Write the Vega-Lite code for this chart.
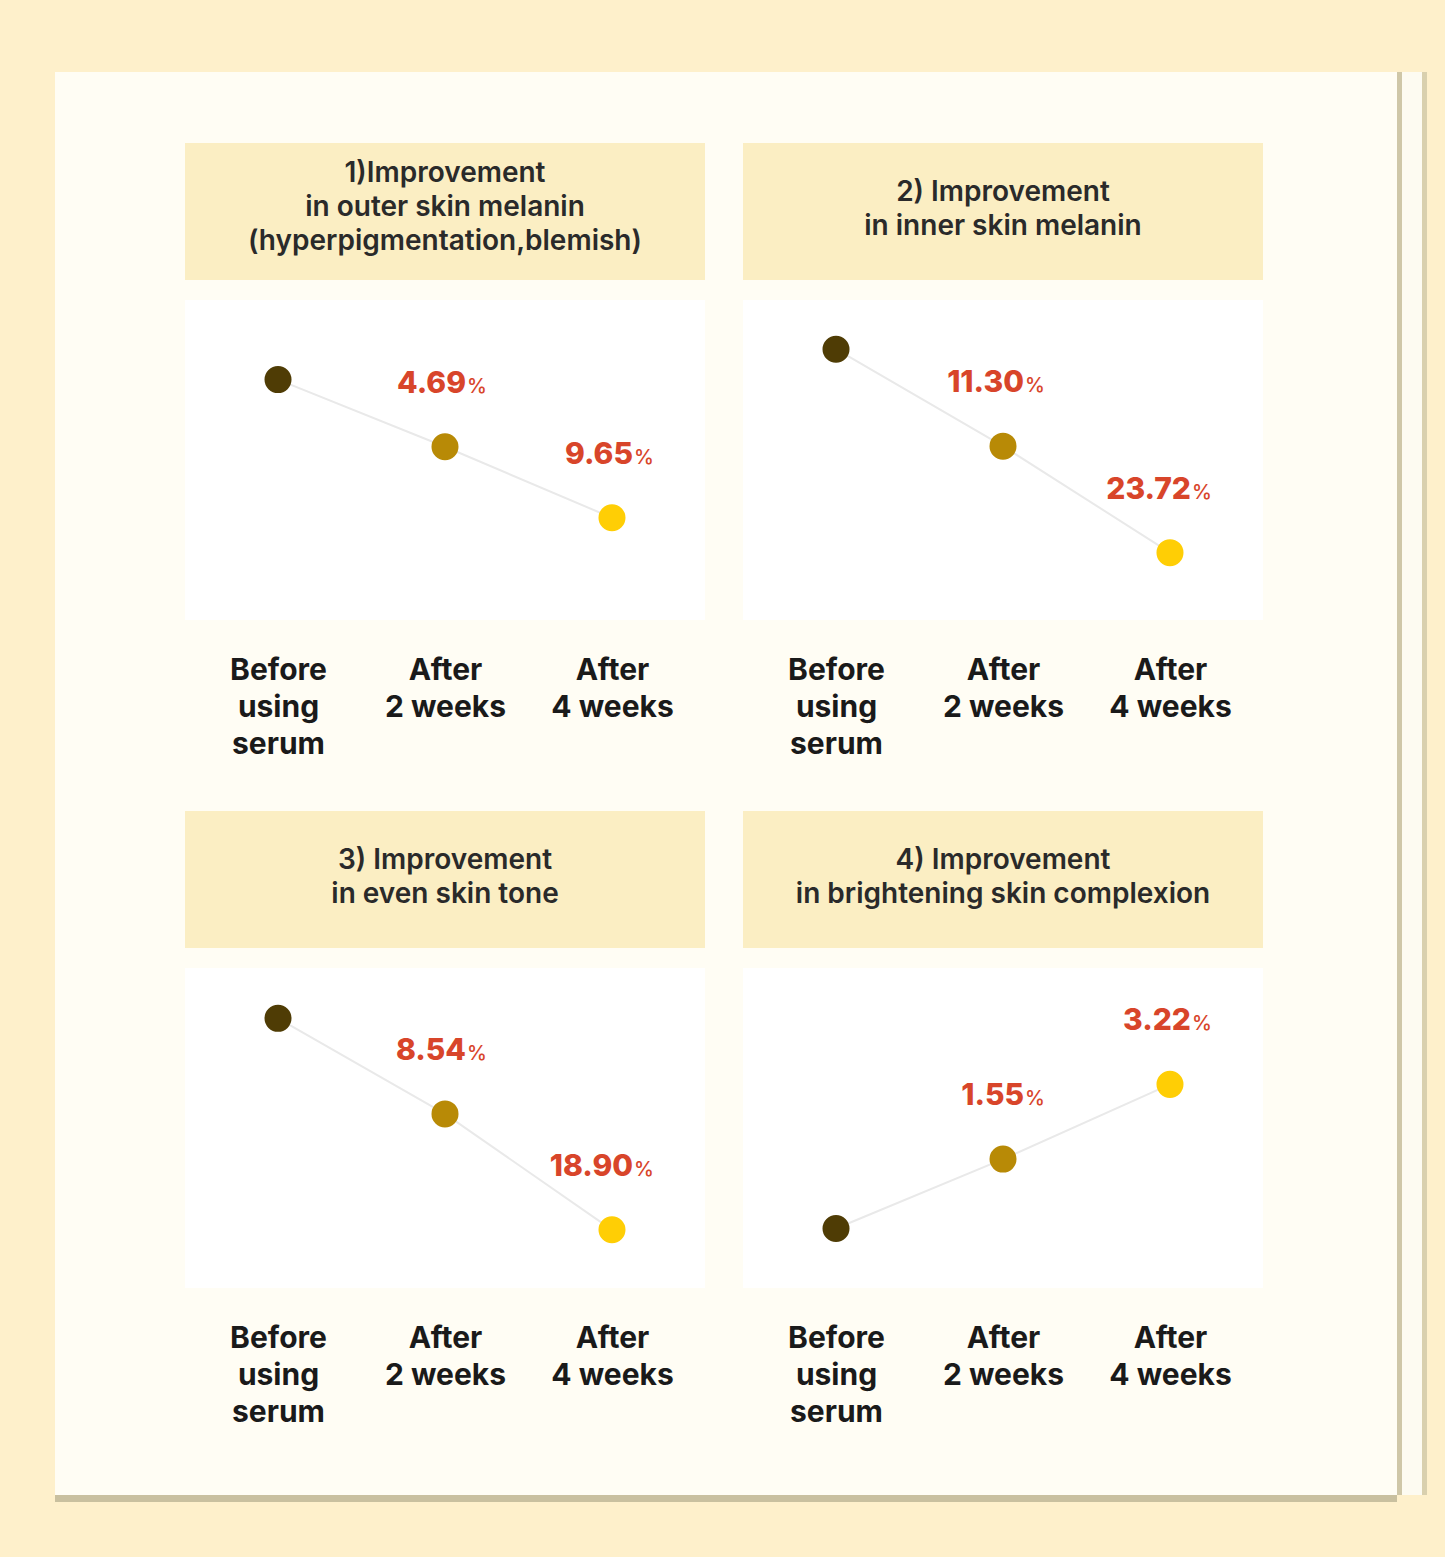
{
  "$schema": "https://vega.github.io/schema/vega-lite/v6.json",
  "background": "#FFFDF4",
  "padding": 0,
  "spacing": 0,
  "datasets": {
    "pts": [
      {"panel": 1, "stage": "Before using serum", "improvement": 0},
      {"panel": 1, "stage": "After 2 weeks", "improvement": 4.69},
      {"panel": 1, "stage": "After 4 weeks", "improvement": 9.65},
      {"panel": 2, "stage": "Before using serum", "improvement": 0},
      {"panel": 2, "stage": "After 2 weeks", "improvement": 11.30},
      {"panel": 2, "stage": "After 4 weeks", "improvement": 23.72},
      {"panel": 3, "stage": "Before using serum", "improvement": 0},
      {"panel": 3, "stage": "After 2 weeks", "improvement": 8.54},
      {"panel": 3, "stage": "After 4 weeks", "improvement": 18.90},
      {"panel": 4, "stage": "Before using serum", "improvement": 0},
      {"panel": 4, "stage": "After 2 weeks", "improvement": 1.55},
      {"panel": 4, "stage": "After 4 weeks", "improvement": 3.22}
    ],
    "titles": [
      {"panel": 1, "title": "1)Improvement\nin outer skin melanin\n(hyperpigmentation,blemish)"},
      {"panel": 2, "title": "2) Improvement\nin inner skin melanin"},
      {"panel": 3, "title": "3) Improvement\nin even skin tone"},
      {"panel": 4, "title": "4) Improvement\nin brightening skin complexion"}
    ]
  },
  "vconcat": [
    {"width": 1445, "height": 72, "data": {"values": []}, "mark": {"type": "text", "text": ""}, "view": {"fill": "#FEF0CB", "stroke": null}},
    {
      "spacing": 0,
      "hconcat": [
        {"width": 55, "height": 1423, "data": {"values": []}, "mark": {"type": "text", "text": ""}, "view": {"fill": "#FEF0CB", "stroke": null}},
        {
          "spacing": 0,
          "vconcat": [
            {"width": 1342, "height": 71, "data": {"values": []}, "mark": {"type": "text", "text": ""}, "view": {"stroke": null}},
            {
              "spacing": 0,
              "hconcat": [
                {"width": 130, "height": 10, "data": {"values": []}, "mark": {"type": "text", "text": ""}, "view": {"stroke": null}},
                {
                  "spacing": 52,
                  "vconcat": [
                    {
                      "spacing": 38,
                      "hconcat": [
                        {
                          "spacing": 20,
                          "vconcat": [
                            {"width": 520, "height": 137, "view": {"fill": "#FBEEC3", "stroke": null}, "data": {"name": "titles"}, "transform": [{"filter": "datum.panel == 1"}], "mark": {"type": "text", "lineBreak": "\n", "fontSize": 28, "font": "Inter", "fontWeight": 600, "color": "#2A2A2A", "lineHeight": 34, "align": "center", "baseline": "middle", "dy": -38}, "encoding": {"text": {"field": "title"}}},
                            {
                              "width": 520, "height": 320, "view": {"fill": "#FFFFFF", "stroke": null},
                              "data": {"name": "pts"}, "transform": [{"filter": "datum.panel == 1"}],
                              "encoding": {
                                "x": {"field": "stage", "type": "nominal", "sort": ["Before using serum", "After 2 weeks", "After 4 weeks"], "scale": {"type": "point", "padding": 0.557}, "title": null, "axis": {"labelExpr": "indexof(datum.value, 'Before') == 0 ? ['Before', 'using', 'serum'] : ['After', substring(datum.value, 6)]"}},
                                "y": {"field": "improvement", "type": "quantitative", "scale": {"domain": [-5.56, 16.79], "reverse": true, "nice": false, "zero": false}, "axis": null},
                                "order": {"value": null}
                              },
                              "layer": [
                                {"mark": {"type": "line", "color": "#E9E9E9", "strokeWidth": 2}},
                                {"mark": {"type": "circle", "size": 730, "opacity": 1}, "encoding": {"color": {"field": "stage", "type": "nominal", "scale": {"domain": ["Before using serum", "After 2 weeks", "After 4 weeks"], "range": ["#4F3C05", "#B88A06", "#FFCE05"]}, "legend": null}}},
                                {"transform": [{"filter": "datum.improvement > 0"}], "mark": {"type": "text", "align": "right", "baseline": "alphabetic", "dx": 21, "dy": -54, "font": "Inter", "fontWeight": 800, "fontSize": 30, "color": "#D8452A"}, "encoding": {"text": {"field": "improvement", "type": "quantitative", "format": ".2f"}}},
                                {"transform": [{"filter": "datum.improvement > 0"}], "mark": {"type": "text", "text": "%", "align": "left", "baseline": "alphabetic", "dx": 22, "dy": -54, "font": "Inter", "fontWeight": 500, "fontSize": 20, "color": "#D8452A"}}
                              ]
                            }
                          ]
                        },
                        {
                          "spacing": 20,
                          "vconcat": [
                            {"width": 520, "height": 137, "view": {"fill": "#FBEEC3", "stroke": null}, "data": {"name": "titles"}, "transform": [{"filter": "datum.panel == 2"}], "mark": {"type": "text", "lineBreak": "\n", "fontSize": 28, "font": "Inter", "fontWeight": 600, "color": "#2A2A2A", "lineHeight": 34, "align": "center", "baseline": "middle", "dy": -19}, "encoding": {"text": {"field": "title"}}},
                            {
                              "width": 520, "height": 320, "view": {"fill": "#FFFFFF", "stroke": null},
                              "data": {"name": "pts"}, "transform": [{"filter": "datum.panel == 2"}],
                              "encoding": {
                                "x": {"field": "stage", "type": "nominal", "sort": ["Before using serum", "After 2 weeks", "After 4 weeks"], "scale": {"type": "point", "padding": 0.557}, "title": null, "axis": {"labelExpr": "indexof(datum.value, 'Before') == 0 ? ['Before', 'using', 'serum'] : ['After', substring(datum.value, 6)]"}},
                                "y": {"field": "improvement", "type": "quantitative", "scale": {"domain": [-5.74, 31.57], "reverse": true, "nice": false, "zero": false}, "axis": null},
                                "order": {"value": null}
                              },
                              "layer": [
                                {"mark": {"type": "line", "color": "#E9E9E9", "strokeWidth": 2}},
                                {"mark": {"type": "circle", "size": 730, "opacity": 1}, "encoding": {"color": {"field": "stage", "type": "nominal", "scale": {"domain": ["Before using serum", "After 2 weeks", "After 4 weeks"], "range": ["#4F3C05", "#B88A06", "#FFCE05"]}, "legend": null}}},
                                {"transform": [{"filter": "datum.improvement > 0"}], "mark": {"type": "text", "align": "right", "baseline": "alphabetic", "dx": 21, "dy": -54, "font": "Inter", "fontWeight": 800, "fontSize": 30, "color": "#D8452A"}, "encoding": {"text": {"field": "improvement", "type": "quantitative", "format": ".2f"}}},
                                {"transform": [{"filter": "datum.improvement > 0"}], "mark": {"type": "text", "text": "%", "align": "left", "baseline": "alphabetic", "dx": 22, "dy": -54, "font": "Inter", "fontWeight": 500, "fontSize": 20, "color": "#D8452A"}}
                              ]
                            }
                          ]
                        }
                      ]
                    },
                    {
                      "spacing": 38,
                      "hconcat": [
                        {
                          "spacing": 20,
                          "vconcat": [
                            {"width": 520, "height": 137, "view": {"fill": "#FBEEC3", "stroke": null}, "data": {"name": "titles"}, "transform": [{"filter": "datum.panel == 3"}], "mark": {"type": "text", "lineBreak": "\n", "fontSize": 28, "font": "Inter", "fontWeight": 600, "color": "#2A2A2A", "lineHeight": 34, "align": "center", "baseline": "middle", "dy": -19}, "encoding": {"text": {"field": "title"}}},
                            {
                              "width": 520, "height": 320, "view": {"fill": "#FFFFFF", "stroke": null},
                              "data": {"name": "pts"}, "transform": [{"filter": "datum.panel == 3"}],
                              "encoding": {
                                "x": {"field": "stage", "type": "nominal", "sort": ["Before using serum", "After 2 weeks", "After 4 weeks"], "scale": {"type": "point", "padding": 0.557}, "title": null, "axis": {"labelExpr": "indexof(datum.value, 'Before') == 0 ? ['Before', 'using', 'serum'] : ['After', substring(datum.value, 6)]"}},
                                "y": {"field": "improvement", "type": "quantitative", "scale": {"domain": [-4.50, 24.10], "reverse": true, "nice": false, "zero": false}, "axis": null},
                                "order": {"value": null}
                              },
                              "layer": [
                                {"mark": {"type": "line", "color": "#E9E9E9", "strokeWidth": 2}},
                                {"mark": {"type": "circle", "size": 730, "opacity": 1}, "encoding": {"color": {"field": "stage", "type": "nominal", "scale": {"domain": ["Before using serum", "After 2 weeks", "After 4 weeks"], "range": ["#4F3C05", "#B88A06", "#FFCE05"]}, "legend": null}}},
                                {"transform": [{"filter": "datum.improvement > 0"}], "mark": {"type": "text", "align": "right", "baseline": "alphabetic", "dx": 21, "dy": -54, "font": "Inter", "fontWeight": 800, "fontSize": 30, "color": "#D8452A"}, "encoding": {"text": {"field": "improvement", "type": "quantitative", "format": ".2f"}}},
                                {"transform": [{"filter": "datum.improvement > 0"}], "mark": {"type": "text", "text": "%", "align": "left", "baseline": "alphabetic", "dx": 22, "dy": -54, "font": "Inter", "fontWeight": 500, "fontSize": 20, "color": "#D8452A"}}
                              ]
                            }
                          ]
                        },
                        {
                          "spacing": 20,
                          "vconcat": [
                            {"width": 520, "height": 137, "view": {"fill": "#FBEEC3", "stroke": null}, "data": {"name": "titles"}, "transform": [{"filter": "datum.panel == 4"}], "mark": {"type": "text", "lineBreak": "\n", "fontSize": 28, "font": "Inter", "fontWeight": 600, "color": "#2A2A2A", "lineHeight": 34, "align": "center", "baseline": "middle", "dy": -19}, "encoding": {"text": {"field": "title"}}},
                            {
                              "width": 520, "height": 320, "view": {"fill": "#FFFFFF", "stroke": null},
                              "data": {"name": "pts"}, "transform": [{"filter": "datum.panel == 4"}],
                              "encoding": {
                                "x": {"field": "stage", "type": "nominal", "sort": ["Before using serum", "After 2 weeks", "After 4 weeks"], "scale": {"type": "point", "padding": 0.557}, "title": null, "axis": {"labelExpr": "indexof(datum.value, 'Before') == 0 ? ['Before', 'using', 'serum'] : ['After', substring(datum.value, 6)]"}},
                                "y": {"field": "improvement", "type": "quantitative", "scale": {"domain": [-1.33, 5.82], "nice": false, "zero": false}, "axis": null},
                                "order": {"value": null}
                              },
                              "layer": [
                                {"mark": {"type": "line", "color": "#E9E9E9", "strokeWidth": 2}},
                                {"mark": {"type": "circle", "size": 730, "opacity": 1}, "encoding": {"color": {"field": "stage", "type": "nominal", "scale": {"domain": ["Before using serum", "After 2 weeks", "After 4 weeks"], "range": ["#4F3C05", "#B88A06", "#FFCE05"]}, "legend": null}}},
                                {"transform": [{"filter": "datum.improvement > 0"}], "mark": {"type": "text", "align": "right", "baseline": "alphabetic", "dx": 21, "dy": -54, "font": "Inter", "fontWeight": 800, "fontSize": 30, "color": "#D8452A"}, "encoding": {"text": {"field": "improvement", "type": "quantitative", "format": ".2f"}}},
                                {"transform": [{"filter": "datum.improvement > 0"}], "mark": {"type": "text", "text": "%", "align": "left", "baseline": "alphabetic", "dx": 22, "dy": -54, "font": "Inter", "fontWeight": 500, "fontSize": 20, "color": "#D8452A"}}
                              ]
                            }
                          ]
                        }
                      ]
                    }
                  ]
                }
              ]
            }
          ]
        },
        {
          "spacing": 0,
          "hconcat": [
            {"width": 5, "height": 1423, "data": {"values": []}, "mark": {"type": "text", "text": ""}, "view": {"fill": "#CFC7A8", "stroke": null}},
            {"width": 20, "height": 1423, "data": {"values": []}, "mark": {"type": "text", "text": ""}, "view": {"fill": "#FDFBF1", "stroke": null}},
            {"width": 5, "height": 1423, "data": {"values": []}, "mark": {"type": "text", "text": ""}, "view": {"fill": "#D9D0AE", "stroke": null}},
            {"width": 18, "height": 1423, "data": {"values": []}, "mark": {"type": "text", "text": ""}, "view": {"fill": "#FEF0CB", "stroke": null}}
          ]
        }
      ]
    },
    {
      "spacing": 0,
      "vconcat": [
        {
          "spacing": 0,
          "hconcat": [
            {"width": 55, "height": 7, "data": {"values": []}, "mark": {"type": "text", "text": ""}, "view": {"fill": "#FEF0CB", "stroke": null}},
            {"width": 1342, "height": 7, "data": {"values": []}, "mark": {"type": "text", "text": ""}, "view": {"fill": "#C9C09F", "stroke": null}},
            {"width": 48, "height": 7, "data": {"values": []}, "mark": {"type": "text", "text": ""}, "view": {"fill": "#FEF0CB", "stroke": null}}
          ]
        },
        {"width": 1445, "height": 55, "data": {"values": []}, "mark": {"type": "text", "text": ""}, "view": {"fill": "#FEF0CB", "stroke": null}}
      ]
    }
  ],
  "config": {
    "view": {"stroke": null},
    "axis": {"domain": false, "ticks": false, "grid": false, "labelFontSize": 30, "labelFont": "Inter", "labelFontWeight": 700, "labelColor": "#1A1A1A", "labelPadding": 35, "labelLineHeight": 37, "labelAngle": 0, "labelOverlap": false, "labelBound": false, "labelFlush": false}
  },
  "resolve": {"scale": {"color": "independent"}}
}
